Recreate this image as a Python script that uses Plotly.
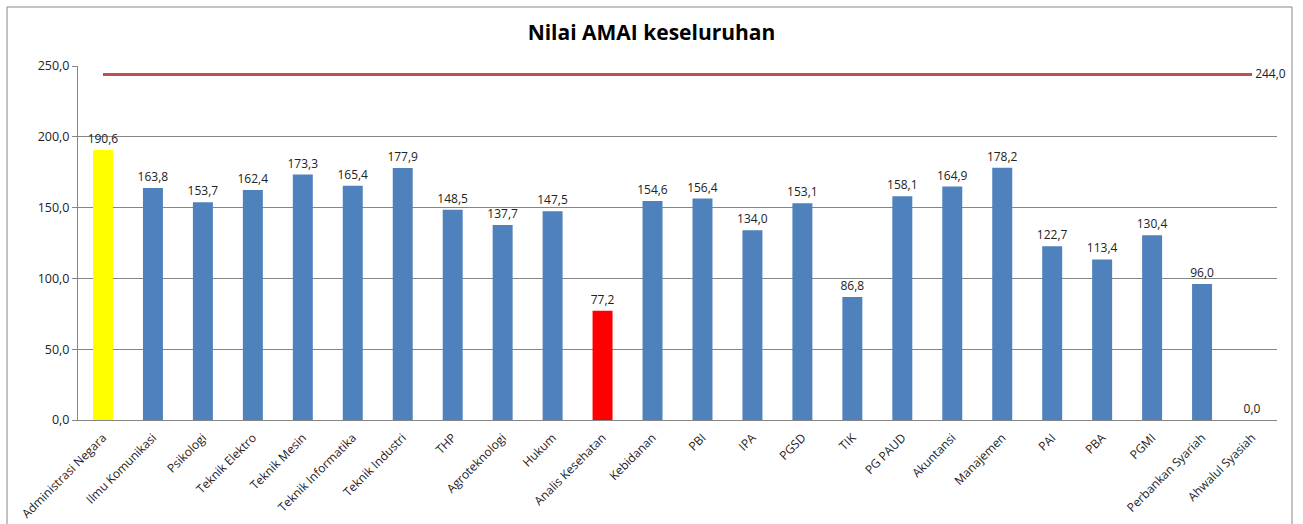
import plotly.graph_objects as go

categories = ["Administrasi Negara", "Ilmu Komunikasi", "Psikologi", "Teknik Elektro",
              "Teknik Mesin", "Teknik Informatika", "Teknik Industri", "THP",
              "Agroteknologi", "Hukum", "Analis Kesehatan", "Kebidanan", "PBI", "IPA",
              "PGSD", "TIK", "PG PAUD", "Akuntansi", "Manajemen", "PAI", "PBA", "PGMI",
              "Perbankan Syariah", "Ahwalul Syasiah"]
values = [190.6, 163.8, 153.7, 162.4, 173.3, 165.4, 177.9, 148.5, 137.7, 147.5, 77.2,
          154.6, 156.4, 134.0, 153.1, 86.8, 158.1, 164.9, 178.2, 122.7, 113.4, 130.4,
          96.0, 0.0]
target_value = 244.0
y_ticks = [0, 50, 100, 150, 200, 250]

colors = []
for c in categories:
    if c == "Administrasi Negara":
        colors.append("#FFFF00")
    elif c == "Analis Kesehatan":
        colors.append("#FF0000")
    else:
        colors.append("#4F81BD")

font = "Open Sans, Liberation Sans, sans-serif"

fig = go.Figure()
fig.add_trace(go.Bar(
    x=categories, y=values, marker=dict(color=colors, line=dict(width=0)),
    texttemplate="%{y:.1f}", textposition="outside", cliponaxis=False,
    constraintext="none",
    textfont=dict(size=12, color="#222222", family=font), showlegend=False,
))
fig.add_trace(go.Scatter(
    x=categories, y=[target_value] * len(categories), mode="lines+text",
    line=dict(color="#C0504D", width=3),
    text=[""] * (len(categories) - 1) + [" " + f"{target_value:.1f}".replace(".", ",")],
    textposition="middle right", cliponaxis=False,
    textfont=dict(size=12, color="#222222", family=font), showlegend=False,
))

fig.update_layout(
    width=1303, height=524,
    margin=dict(l=78, r=26, t=66, b=104),
    paper_bgcolor="white", plot_bgcolor="white",
    separators=",.",
    bargap=0.6,
    title=dict(text="<b>Nilai AMAI keseluruhan</b>", x=0.5, xanchor="center",
               y=0.937, yanchor="middle",
               font=dict(size=21, color="#000000", family=font)),
    font=dict(family=font, size=12, color="#222222"),
    xaxis=dict(tickangle=-45, showgrid=False, showline=True, linecolor="#868686",
               linewidth=1, ticks="", automargin=False, ticklabelstandoff=5,
               range=[-0.5, len(categories) - 0.5],
               tickfont=dict(size=12, color="#222222")),
    yaxis=dict(range=[0, 250], tickvals=y_ticks, tickformat=".1f",
               showgrid=True, gridcolor="#868686", gridwidth=1,
               showline=True, linecolor="#868686", linewidth=1,
               ticks="outside", ticklen=5, tickcolor="#868686", automargin=False,
               zeroline=False, tickfont=dict(size=12.5, color="#222222")),
    shapes=[dict(type="rect", xref="paper", yref="paper",
                 x0=(7 - 78) / 1199, x1=(1292 - 78) / 1199,
                 y0=(420 - 540) / 354, y1=(420 - 7) / 354,
                 line=dict(color="#868686", width=1), fillcolor="rgba(0,0,0,0)",
                 layer="below")],
)

fig.write_html("out.html", config={"displayModeBar": False},
               post_script="document.body.style.margin='0px';")
